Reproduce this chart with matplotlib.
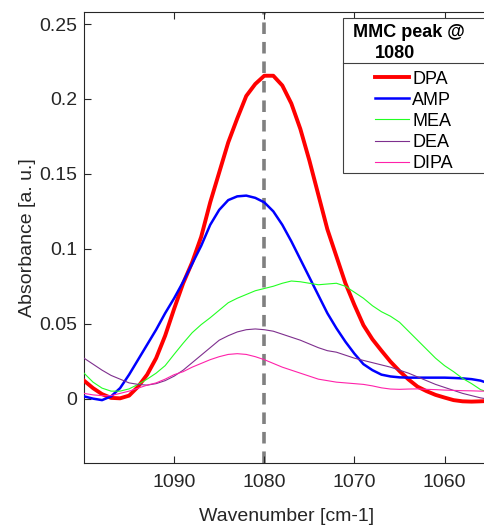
import numpy as np
import matplotlib
matplotlib.use("Agg")
import matplotlib.pyplot as plt
from matplotlib.ticker import FuncFormatter
from matplotlib.patches import Rectangle

plt.rcParams['font.family'] = ['Liberation Sans', 'DejaVu Sans']

# wavenumber grid (cm-1), 1100 -> 1055
wavenumber = np.arange(1100, 1054, -1)

dpa = [0.012, 0.007, 0.003, 0.0005, 0.0002, 0.002, 0.008, 0.016, 0.027, 0.042,
       0.060, 0.077, 0.091, 0.108, 0.131, 0.151, 0.171, 0.187, 0.202, 0.210,
       0.2155, 0.2155, 0.209, 0.197, 0.180, 0.159, 0.136, 0.113, 0.095, 0.077,
       0.0625, 0.049, 0.0396, 0.032, 0.0247, 0.0184, 0.0128, 0.008, 0.005, 0.0025,
       0.0007, -0.001, -0.0018, -0.002, -0.0018, -0.0015]
amp = [0.0015, 0.0, -0.001, 0.0015, 0.007, 0.016, 0.026, 0.036, 0.046, 0.057,
       0.067, 0.078, 0.090, 0.102, 0.116, 0.126, 0.1325, 0.135, 0.1355, 0.134,
       0.131, 0.125, 0.116, 0.105, 0.093, 0.081, 0.069, 0.057, 0.047, 0.038,
       0.030, 0.023, 0.019, 0.016, 0.0148, 0.0142, 0.014, 0.014, 0.014, 0.014,
       0.014, 0.0138, 0.0135, 0.013, 0.012, 0.010]
mea = [0.017, 0.011, 0.007, 0.005, 0.005, 0.0065, 0.0095, 0.013, 0.017, 0.022,
       0.0296, 0.037, 0.044, 0.0494, 0.054, 0.059, 0.064, 0.067, 0.0695, 0.072,
       0.0735, 0.075, 0.077, 0.0785, 0.078, 0.077, 0.076, 0.0765, 0.077, 0.075,
       0.071, 0.067, 0.062, 0.058, 0.055, 0.051, 0.045, 0.039, 0.033, 0.027,
       0.022, 0.018, 0.0135, 0.010, 0.006, 0.004]
dea = [0.027, 0.023, 0.019, 0.0155, 0.013, 0.0105, 0.0095, 0.009, 0.010, 0.012,
       0.015, 0.019, 0.024, 0.029, 0.034, 0.039, 0.042, 0.0445, 0.046, 0.0465,
       0.046, 0.045, 0.043, 0.041, 0.039, 0.0365, 0.034, 0.032, 0.031, 0.029,
       0.027, 0.0255, 0.024, 0.0225, 0.021, 0.019, 0.017, 0.0145, 0.012, 0.0095,
       0.0075, 0.0055, 0.0035, 0.002, 0.0005, -0.0005]
dipa = [0.0035, 0.0025, 0.002, 0.002, 0.0035, 0.005, 0.007, 0.009, 0.0105, 0.013,
        0.016, 0.018, 0.021, 0.0235, 0.026, 0.028, 0.0295, 0.030, 0.0295, 0.028,
        0.026, 0.0235, 0.021, 0.019, 0.017, 0.015, 0.013, 0.012, 0.011, 0.0105,
        0.010, 0.0095, 0.0085, 0.0072, 0.0064, 0.0062, 0.0064, 0.0065, 0.0062, 0.006,
        0.0057, 0.0055, 0.0053, 0.0052, 0.005, 0.005]

peak_pos = 1080
x_ticks = [1090, 1080, 1070, 1060]
y_ticks = [0, 0.05, 0.1, 0.15, 0.2, 0.25]

W, H = 484, 525
fig = plt.figure(figsize=(W / 100, H / 100), dpi=100)
ax = fig.add_axes([0.1736, 0.118, 0.838, 0.859])

ax.axvline(peak_pos, color='#808080', lw=2.6, ls=(0, (3.2, 2.2)), zorder=1)
ax.plot(wavenumber, dpa, color='#FF0000', lw=2.8, label='DPA', zorder=3)
ax.plot(wavenumber, amp, color='#0000FF', lw=1.8, label='AMP', zorder=3)
ax.plot(wavenumber, mea, color='#22FF22', lw=0.8, label='MEA', zorder=3)
ax.plot(wavenumber, dea, color='#7E2F8E', lw=0.8, label='DEA', zorder=3)
ax.plot(wavenumber, dipa, color='#FF22AA', lw=0.8, label='DIPA', zorder=3)

ax.set_xlim(1100, 1055)
ax.set_ylim(-0.043, 0.258)
ax.set_xticks(x_ticks)
ax.set_yticks(y_ticks)
ax.yaxis.set_major_formatter(FuncFormatter(lambda v, p: '%g' % v))
ax.tick_params(direction='in', top=True, right=False, labelsize=14,
               colors='#262626', length=5, width=0.8)
ax.tick_params(axis='x', pad=8)
ax.tick_params(axis='y', pad=5)
for s in ax.spines.values():
    s.set_color('#262626')
    s.set_linewidth(0.8)

ax.set_xlabel('Wavenumber [cm-1]', fontsize=14, color='#262626', labelpad=12)
ax.set_ylabel('Absorbance [a. u.]', fontsize=14, color='#262626', labelpad=2)


def fx(px):
    return px / W


def fy(py):
    return 1 - py / H


# MATLAB-style legend box: frame, two-line bold title, separator, entries
box = Rectangle((fx(343), fy(173)), fx(520) - fx(343), fy(18) - fy(173),
                transform=fig.transFigure, facecolor='white',
                edgecolor='#404040', lw=0.8, zorder=5, clip_on=False)
ax.add_patch(box)
ax.text(fx(353), fy(37), 'MMC peak @', fontsize=13, fontweight='bold',
        color='black', va='baseline', ha='left', zorder=6,
        transform=fig.transFigure)
ax.text(fx(375), fy(57.5), '1080', fontsize=13, fontweight='bold',
        color='black', va='baseline', ha='left', zorder=6,
        transform=fig.transFigure)
ax.add_line(plt.Line2D([fx(343), fx(520)], [fy(63.3), fy(63.3)],
                       color='#404040', lw=0.8, transform=fig.transFigure,
                       zorder=6, clip_on=False))

leg = ax.legend(loc='upper left', bbox_to_anchor=(fx(375), fy(70.5)),
                bbox_transform=fig.transFigure, fontsize=13, frameon=False,
                handlelength=1.88, handletextpad=0.17, labelspacing=0.23,
                borderpad=0, borderaxespad=0)
leg.set_zorder(7)
for t in leg.get_texts():
    t.set_color('black')

fig.savefig('out.png', dpi=100)
